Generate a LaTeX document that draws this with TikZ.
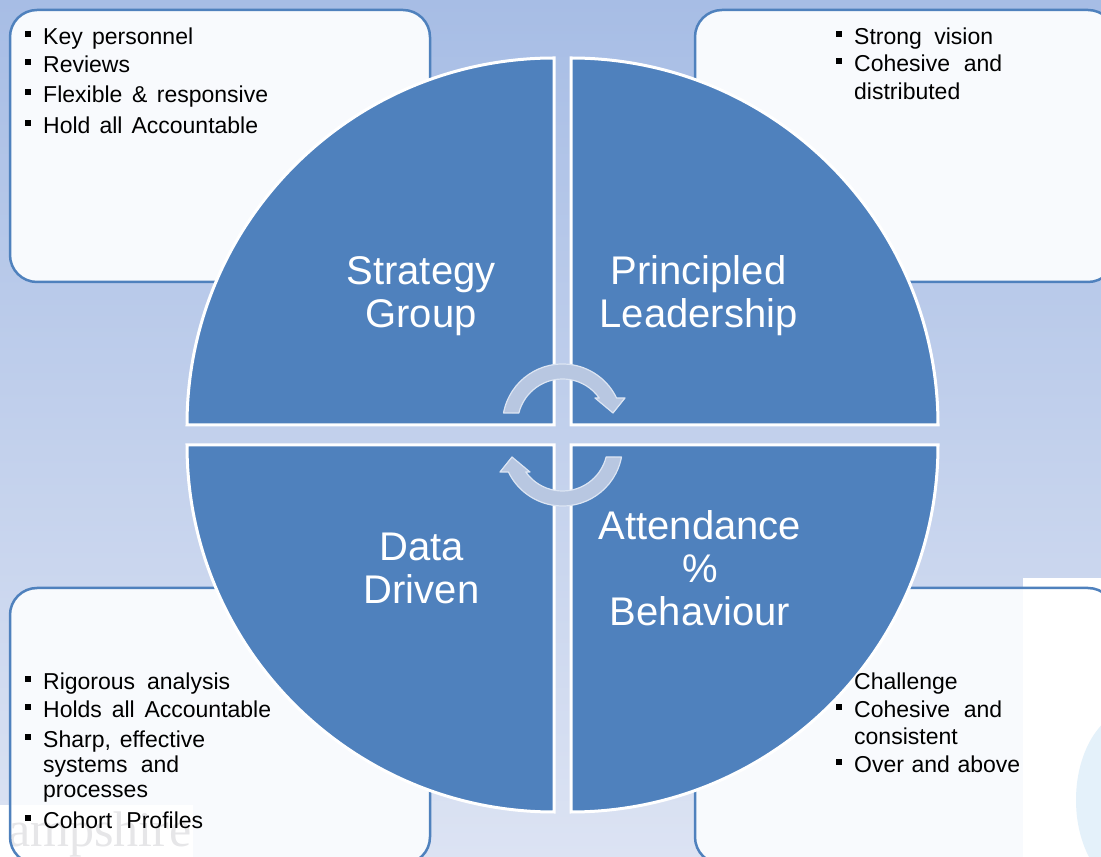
\documentclass[tikz,border=0pt]{standalone}
\usepackage{fontspec}
\setmainfont{Liberation Sans}
\newfontfamily\wmfont{Liberation Serif}
\usetikzlibrary{calc}

\definecolor{quadblue}{HTML}{4F81BD}
\definecolor{boxfill}{HTML}{F8FAFD}
\definecolor{bgtop}{HTML}{A7BDE5}
\definecolor{bgmid}{HTML}{C6D4ED}
\definecolor{bgbot}{HTML}{DCE3F3}
\definecolor{arrowfill}{HTML}{B8C7E1}
\definecolor{arrowedge}{HTML}{DCE5F3}
\definecolor{ghostblue}{HTML}{E4F1FA}
\definecolor{wmgray}{HTML}{E6E6E8}

% small square list bullet
\newcommand\sqb{\raisebox{7.5pt}{\rule{6pt}{6pt}}}

\begin{document}
\begin{tikzpicture}[x=1pt,y=1pt,
  panel/.style={rounded corners=27pt, fill=boxfill},
  paneledge/.style={rounded corners=27pt, draw=quadblue, line width=2.5pt},
  quadrant/.style={fill=quadblue, draw=white, line width=3pt},
  listtext/.style={anchor=base west, inner sep=0pt, text=black,
    font=\fontsize{23}{25}\selectfont},
  qlabel/.style={anchor=base, inner sep=0pt, text=white,
    font=\fontsize{40}{43}\selectfont},
  cyclearrow/.pic={
    \path[fill=arrowfill, draw=arrowedge, line width=1.2pt, line join=round]
      (169.4:60) arc[start angle=169.4, end angle=25.7, radius=60]
      -- (62.5,26) -- (50.5,11) -- (32.5,26) -- (35.3:45)
      arc[start angle=35.3, end angle=165.9, radius=45] -- cycle;
  }
]
\useasboundingbox (0,0) rectangle (1101,857);
\clip (0,0) rectangle (1101,857);

% background
\shade[top color=bgtop, middle color=bgmid, bottom color=bgbot]
  (0,0) rectangle (1101,857);

% corner panels: fills
\path[panel] (10,575) rectangle (430,847);
\path[panel] (695,575) rectangle (1115,847);
\path[panel] (10,-7) rectangle (430,269);
\path[panel] (695,-7) rectangle (1115,269);

% pasted patches on the lower panels
\begin{scope}
  \fill[white] (0,0) rectangle (193,52);
  \clip (0,0) rectangle (193,52);
  \node[anchor=base west, inner sep=0pt, text=wmgray,
    font=\wmfont\fontsize{50}{50}\selectfont] (wm) at (8,10) {ampshire};
\end{scope}
\fill[white] (1023,0) rectangle (1101,279);
\fill[ghostblue] (1135,57) ellipse[x radius=59, y radius=91];

% corner panels: borders
\draw[paneledge] (10,575) rectangle (430,847);
\draw[paneledge] (695,575) rectangle (1115,847);
\draw[paneledge] (10,-7) rectangle (430,269);
\draw[paneledge] (695,-7) rectangle (1115,269);

% four quadrants of the cycle
\path[quadrant] (554,432) -- (187,432) arc[start angle=180, end angle=90, radius=367] -- cycle;
\path[quadrant] (571,432) -- (571,799) arc[start angle=90, end angle=0, radius=367] -- cycle;
\path[quadrant] (554,412) -- (187,412) arc[start angle=180, end angle=270, radius=367] -- cycle;
\path[quadrant] (571,412) -- (938,412) arc[start angle=0, end angle=-90, radius=367] -- cycle;

% circular arrows in the middle
\pic at (562.5,433) {cyclearrow};
\pic[rotate=180] at (562.5,411) {cyclearrow};

% quadrant titles
\node[qlabel] (sg) at (421,572) {\begin{tabular}[t]{@{}c@{}}Strategy\\Group\end{tabular}};
\node[qlabel] (pl) at (698.5,572) {\begin{tabular}[t]{@{}c@{}}Principled\\Leadership\end{tabular}};
\node[qlabel] (dd) at (421.5,296) {\begin{tabular}[t]{@{}c@{}}Data\\Driven\end{tabular}};
\node[qlabel] (ab) at (700,317) {\begin{tabular}[t]{@{}c@{}}Attendance\\\%\\Behaviour\end{tabular}};

% bullet lists
\node[listtext] (ltl) at (25,812) {\begin{tabular}[t]{@{}l@{\hspace{12pt}}l@{}}
\sqb & \makebox[150pt][s]{Key personnel}\\[3pt]
\sqb & Reviews\\[5pt]
\sqb & \makebox[225pt][s]{Flexible \& responsive}\\[6pt]
\sqb & \makebox[215pt][s]{Hold all Accountable}
\end{tabular}};

\node[listtext] (ltr) at (836,812) {\begin{tabular}[t]{@{}l@{\hspace{12pt}}l@{}}
\sqb & \makebox[139pt][s]{Strong vision}\\[2pt]
\sqb & \makebox[148pt][s]{Cohesive and}\\[3pt]
 & distributed
\end{tabular}};

\node[listtext] (lbl) at (25,167) {\begin{tabular}[t]{@{}l@{\hspace{12pt}}l@{}}
\sqb & \makebox[187pt][s]{Rigorous analysis}\\[3pt]
\sqb & \makebox[228pt][s]{Holds all Accountable}\\[5pt]
\sqb & \makebox[162pt][s]{Sharp, effective}\\
 & \makebox[136pt][s]{systems and}\\
 & processes\\[6pt]
\sqb & \makebox[160pt][s]{Cohort Profiles}
\end{tabular}};

\node[listtext] (lbr) at (836,167) {\begin{tabular}[t]{@{}l@{\hspace{12pt}}l@{}}
 & Challenge\\[3pt]
\sqb & \makebox[148pt][s]{Cohesive and}\\[2pt]
 & consistent\\[3pt]
\sqb & \makebox[166pt][s]{Over and above}
\end{tabular}};
\end{tikzpicture}
\end{document}
